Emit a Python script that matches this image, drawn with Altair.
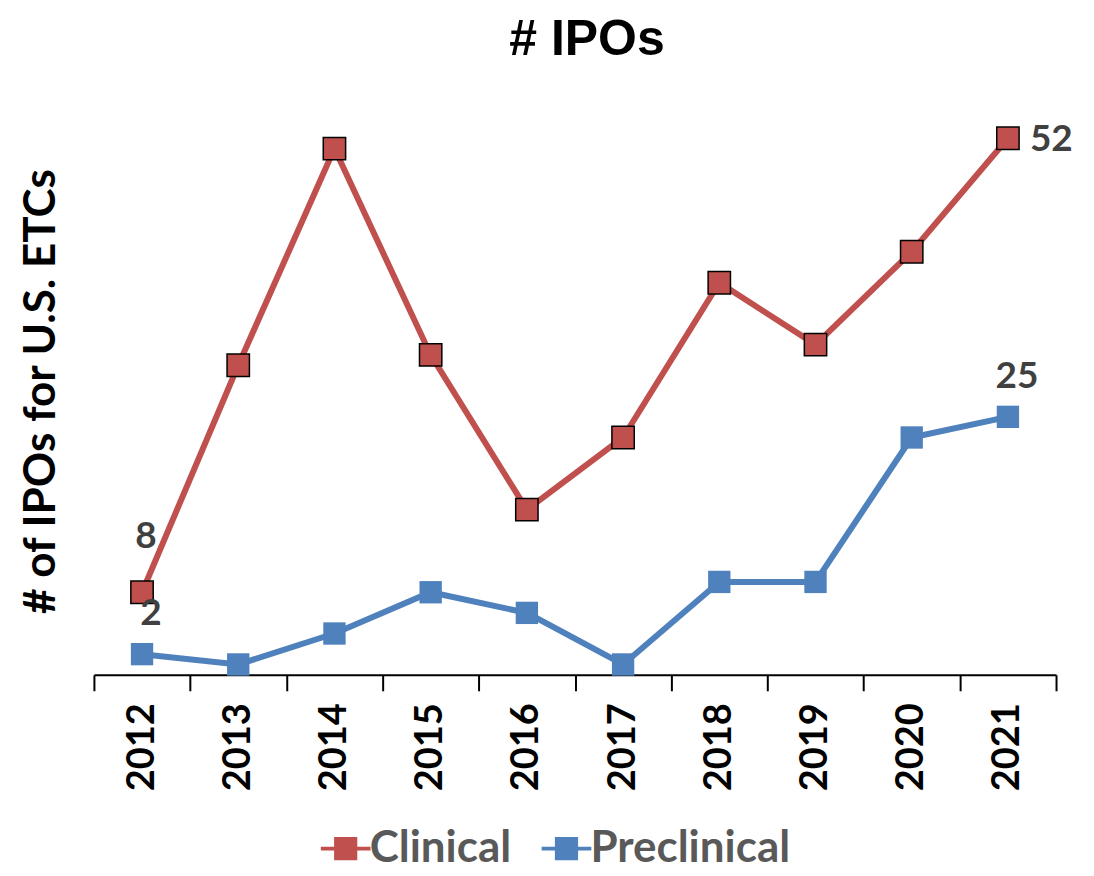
import altair as alt
import pandas as pd

years = ["2012", "2013", "2014", "2015", "2016", "2017", "2018", "2019", "2020", "2021"]
clinical = [8, 30, 51, 31, 16, 23, 38, 32, 41, 52]
preclinical = [2, 1, 4, 8, 6, 1, 9, 9, 23, 25]
series_names = ["Clinical", "Preclinical"]

rows = []
for y, c, p in zip(years, clinical, preclinical):
    rows.append({"year": y, "series": "Clinical", "value": c})
    rows.append({"year": y, "series": "Preclinical", "value": p})
df = pd.DataFrame(rows)

label_rows = [
    {"year": "2012", "series": "Clinical", "value": 8, "txt": "8", "pos": "high"},
    {"year": "2012", "series": "Preclinical", "value": 2, "txt": "2", "pos": "top"},
    {"year": "2021", "series": "Clinical", "value": 52, "txt": "52", "pos": "right"},
    {"year": "2021", "series": "Preclinical", "value": 25, "txt": "25", "pos": "top"},
]
ldf = pd.DataFrame(label_rows)

colors = ["#C0504D", "#4F81BD"]
font = "Lato"

x_enc = alt.X(
    "year:N",
    sort=years,
    scale=alt.Scale(type="band", paddingInner=0, paddingOuter=0),
    axis=alt.Axis(
        title=None,
        labelAngle=-90,
        labelFont=font,
        labelFontSize=38,
        labelFontWeight="bold",
        labelColor="#000000",
        labelPadding=12,
        tickBand="extent",
        tickSize=16,
        tickColor="#000000",
        tickWidth=2,
        domainColor="#000000",
        domainWidth=2,
        grid=False,
    ),
)
y_enc = alt.Y(
    "value:Q",
    scale=alt.Scale(domain=[0, 55], nice=False),
    axis=alt.Axis(
        title="# of IPOs for U.S. ETCs",
        titleFont=font,
        titleFontSize=44,
        titleFontWeight="bold",
        titleColor="#000000",
        titlePadding=30,
        labels=False,
        ticks=False,
        domain=False,
        grid=False,
    ),
)
legend_symbol = "M-1.5,-0.12 H1.5 V0.12 H-1.5 Z M-0.7,-0.7 H0.7 V0.7 H-0.7 Z"

fill_enc = alt.Fill(
    "series:N",
    scale=alt.Scale(domain=series_names, range=colors),
    legend=alt.Legend(
        title=None,
        orient="none",
        direction="horizontal",
        legendX=230,
        legendY=720,
        labelFont=font,
        labelFontSize=44,
        labelFontWeight="bold",
        labelColor="#595959",
        labelLimit=400,
        symbolType=legend_symbol,
        symbolSize=1100,
        symbolStrokeWidth=0,
        symbolOpacity=1,
        columnPadding=30,
        labelOffset=2,
    ),
)

clin_line = alt.Chart(df).transform_filter(alt.datum.series == "Clinical").mark_line(
    strokeWidth=6, color=colors[0]
).encode(x=x_enc, y=y_enc)

pre_line = alt.Chart(df).transform_filter(alt.datum.series == "Preclinical").mark_line(
    strokeWidth=6, color=colors[1]
).encode(x=alt.X("year:N", sort=years), y="value:Q")

clin_pts = alt.Chart(df).transform_filter(alt.datum.series == "Clinical").mark_point(
    shape="square", filled=True, size=500, opacity=1, stroke="#000000", strokeWidth=1.5
).encode(x=alt.X("year:N", sort=years), y="value:Q", fill=fill_enc)

pre_pts = alt.Chart(df).transform_filter(alt.datum.series == "Preclinical").mark_point(
    shape="square", filled=True, size=500, opacity=1, strokeWidth=0
).encode(x=alt.X("year:N", sort=years), y="value:Q", fill=fill_enc)

txt_style = dict(font=font, fontSize=37, fontWeight="bold", color="#404040")

lab_high = alt.Chart(ldf).transform_filter(alt.datum.pos == "high").mark_text(
    dy=-55, dx=4, **txt_style
).encode(x=alt.X("year:N", sort=years), y="value:Q", text="txt:N")

lab_top = alt.Chart(ldf).transform_filter(alt.datum.pos == "top").mark_text(
    dy=-40, dx=9, **txt_style
).encode(x=alt.X("year:N", sort=years), y="value:Q", text="txt:N")

lab_right = alt.Chart(ldf).transform_filter(alt.datum.pos == "right").mark_text(
    align="left", dx=22, dy=2, **txt_style
).encode(x=alt.X("year:N", sort=years), y="value:Q", text="txt:N")

chart = alt.layer(clin_line, pre_line, clin_pts, pre_pts, lab_high, lab_top, lab_right).properties(
    width=963,
    height=568,
    title=alt.TitleParams(
        "# IPOs", font="Liberation Sans", fontSize=50, fontWeight="bold",
        color="#000000", anchor="middle", offset=42, dx=12
    ),
    padding={"left": 86, "top": 99, "right": 30, "bottom": 200},
    autosize="none",
).configure_view(stroke=None)

chart.save("out.html", embed_options={"renderer": "svg", "actions": False})
